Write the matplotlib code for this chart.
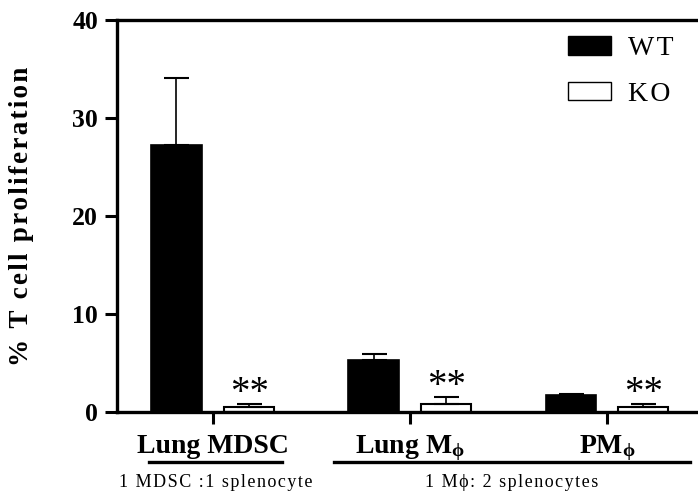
import numpy as np
import matplotlib
matplotlib.use("Agg")
import matplotlib.pyplot as plt
from matplotlib.patches import Patch
from matplotlib.transforms import blended_transform_factory

# values
groups = ["Lung MDSC", "Lung M$_{\\mathregular{\u03d5}}$", "PM$_{\\mathregular{\u03d5}}$"]
wt_mean = [27.2, 5.3, 1.7]
wt_err = [6.9, 0.6, 0.15]
ko_mean = [0.5, 0.8, 0.5]
ko_err = [0.3, 0.7, 0.3]
ko_signif = ["**", "**", "**"]
ratio_labels = ["1 MDSC :1 splenocyte", "1 M\u03d5: 2 splenocytes"]
ratio_spans = [(-0.325, 0.350), (0.614, 2.421)]
yticks = [0, 10, 20, 30, 40]
ylabel = "% T cell proliferation"

plt.rcParams["font.family"] = ["Liberation Serif", "DejaVu Serif"]
plt.rcParams["mathtext.fontset"] = "stix"


def spaced(s):
    # the reference text is letter-spaced; imitate it with hair spaces
    return "\u200a".join(s)


fig = plt.figure(figsize=(6.98, 4.97), dpi=100)
ax = fig.add_axes([0.1676, 0.171, 0.8395, 0.7887])

x = np.arange(len(groups))
w = 0.254
off = 0.185
ax.bar(x - off, wt_mean, w, color="black", edgecolor="black", linewidth=1.2)
ax.bar(x + off, ko_mean, w, color="white", edgecolor="black", linewidth=1.5)
ax.errorbar(x - off, wt_mean, yerr=[np.zeros(3), wt_err], fmt="none",
            ecolor="black", elinewidth=1.2, capsize=9, capthick=1.5)
ax.errorbar(x + off, ko_mean, yerr=[np.zeros(3), ko_err], fmt="none",
            ecolor="black", elinewidth=1.2, capsize=9, capthick=1.5)

for xi, m, e, s in zip(x + off, ko_mean, ko_err, ko_signif):
    ax.text(xi, m + e + 0.1, s, ha="center", va="baseline", fontsize=28)

ax.set_xlim(-0.487, 2.487)
ax.set_ylim(0, 40)
ax.set_yticks(yticks)
ax.set_yticklabels([str(t) for t in yticks], fontsize=18.5, fontweight="bold")
ax.set_xticks(x)
ax.set_xticklabels([])
ax.tick_params(axis="both", direction="out", length=8.5, width=2.2)
ax.tick_params(axis="y", pad=5)
ax.spines["right"].set_visible(False)
for s in ["left", "top", "bottom"]:
    ax.spines[s].set_linewidth(2.4)

ax.set_ylabel(spaced(ylabel), fontsize=19.5, fontweight="bold")
ax.yaxis.set_label_coords(-0.142, 0.5)

tr = blended_transform_factory(ax.transData, fig.transFigure)
for xi, g in zip(x, groups):
    fig.text(xi, 0.0885, g, transform=tr, ha="center", va="baseline",
             fontsize=20, fontweight="bold")
for (a, b), lab in zip(ratio_spans, ratio_labels):
    ax.plot([a, b], [0.0704, 0.0704], transform=tr, color="black", lw=2.4,
            clip_on=False)
    fig.text((a + b) / 2, 0.030, spaced(lab), transform=tr, ha="center",
             va="center", fontsize=13)

handles = [Patch(facecolor="black", edgecolor="black", label=spaced("WT")),
           Patch(facecolor="white", edgecolor="black", label=spaced("KO"))]
ax.legend(handles=handles, loc="upper left", bbox_to_anchor=(568 / 698, 461 / 497),
          bbox_transform=fig.transFigure, frameon=False, fontsize=20,
          handlelength=1.55, handleheight=0.65, handletextpad=0.6,
          labelspacing=0.75, borderpad=0, borderaxespad=0)

fig.savefig("out.png", dpi=100)
